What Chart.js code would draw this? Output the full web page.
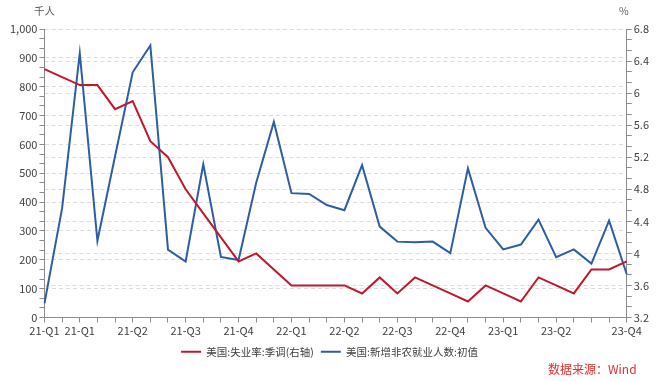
<!DOCTYPE html>
<html>
<head>
<meta charset="utf-8">
<script src="https://cdn.jsdelivr.net/npm/chart.js@4.4.0/dist/chart.umd.min.js"></script>
<style>
    html, body { margin: 0; padding: 0; background: #fff; }
    #wrap { position: relative; width: 656px; height: 381px; font-family: "Noto Sans CJK SC", sans-serif; }
    canvas { display: block; }
    .unit { position: absolute; top: 3px; font-size: 10.5px; color: #595959; }
    #src { position: absolute; left: 548px; top: 360px; font-size: 12px; color: #e0302e; white-space: nowrap; }
</style>
</head>
<body>
<div id="wrap">
    <canvas id="jobsChart" width="656" height="381"></canvas>
    <div class="unit" style="left:34px;">千人</div>
    <div class="unit" style="left:619px;">%</div>
    <div id="src">数据来源：Wind</div>
</div>
<script>
// 月份 2021-01 ~ 2023-10
const months = [
    '2021-01', '2021-02', '2021-03', '2021-04', '2021-05', '2021-06', '2021-07', '2021-08', '2021-09', '2021-10', '2021-11', '2021-12',
    '2022-01', '2022-02', '2022-03', '2022-04', '2022-05', '2022-06', '2022-07', '2022-08', '2022-09', '2022-10', '2022-11', '2022-12',
    '2023-01', '2023-02', '2023-03', '2023-04', '2023-05', '2023-06', '2023-07', '2023-08', '2023-09', '2023-10'
];
// x轴显示的标签
const xTickLabels = [
    '21-Q1', '', '21-Q1', '', '', '21-Q2', '', '', '21-Q3', '', '', '21-Q4',
    '', '', '22-Q1', '', '', '22-Q2', '', '', '22-Q3', '', '', '22-Q4',
    '', '', '23-Q1', '', '', '23-Q2', '', '', '', '23-Q4'
];
// 美国:失业率:季调 (%)
const unemployment = [
    6.3, 6.2, 6.1, 6.1, 5.8, 5.9, 5.4, 5.2, 4.8, 4.5, 4.2, 3.9,
    4.0, 3.8, 3.6, 3.6, 3.6, 3.6, 3.5, 3.7, 3.5, 3.7, 3.6, 3.5,
    3.4, 3.6, 3.5, 3.4, 3.7, 3.6, 3.5, 3.8, 3.8, 3.9
];
// 美国:新增非农就业人数:初值 (千人)
const payrolls = [
    49, 379, 916, 266, 559, 850, 943, 235, 194, 531, 210, 199,
    467, 678, 431, 428, 390, 372, 528, 315, 263, 261, 263, 223,
    517, 311, 236, 253, 339, 209, 236, 187, 336, 150
];

const labelFont = { family: '"Noto Sans CJK SC", sans-serif', size: 11 };
const textColor = '#404040';
const axisColor = '#8c8c8c';
const gridColor = '#dcdcdc';

function isStep(v, base, step) {
    const r = (v - base) / step;
    return Math.abs(r - Math.round(r)) < 1e-6;
}

const ctx = document.getElementById('jobsChart').getContext('2d');
new Chart(ctx, {
    type: 'line',
    data: {
        labels: months,
        datasets: [
            {
                label: '美国:失业率:季调(右轴)',
                data: unemployment,
                yAxisID: 'y1',
                borderColor: '#c0182c',
                backgroundColor: '#c0182c',
                borderWidth: 2,
                pointRadius: 0,
                tension: 0
            },
            {
                label: '美国:新增非农就业人数:初值',
                data: payrolls,
                yAxisID: 'y',
                borderColor: '#2e5da3',
                backgroundColor: '#2e5da3',
                borderWidth: 2,
                pointRadius: 0,
                tension: 0
            }
        ]
    },
    options: {
        responsive: false,
        animation: false,
        layout: { padding: { left: 8, right: 5, top: 29, bottom: 14 } },
        plugins: {
            legend: {
                position: 'bottom',
                labels: {
                    usePointStyle: true,
                    pointStyle: 'line',
                    pointStyleWidth: 20,
                    padding: 7,
                    color: textColor,
                    font: { family: '"Noto Sans CJK SC", sans-serif', size: 10.5 }
                }
            },
            tooltip: { enabled: false }
        },
        scales: {
            x: {
                offset: false,
                grid: {
                    drawOnChartArea: false,
                    drawTicks: true,
                    tickLength: 5,
                    tickColor: axisColor
                },
                border: { color: axisColor },
                ticks: {
                    autoSkip: false,
                    maxRotation: 0,
                    padding: 3,
                    color: textColor,
                    font: Object.assign({ lineHeight: 1 }, labelFont),
                    callback: (v, i) => xTickLabels[i]
                }
            },
            y: {
                position: 'left',
                min: 0,
                max: 1000,
                grid: {
                    color: c => isStep(c.tick.value, 0, 100) ? gridColor : 'rgba(0,0,0,0)',
                    tickColor: axisColor,
                    tickLength: 5
                },
                border: { color: axisColor, dash: [4, 3] },
                ticks: {
                    stepSize: 100 / 3,
                    autoSkip: false,
                    padding: 2,
                    color: textColor,
                    font: labelFont,
                    callback: v => isStep(v, 0, 100) ? Math.round(v).toLocaleString('en-US') : ''
                }
            },
            y1: {
                position: 'right',
                min: 3.2,
                max: 6.8,
                grid: {
                    color: c => isStep(c.tick.value, 3.2, 0.4) ? gridColor : 'rgba(0,0,0,0)',
                    tickColor: axisColor,
                    tickLength: 5
                },
                border: { color: axisColor, dash: [4, 3] },
                ticks: {
                    stepSize: 0.4 / 3,
                    autoSkip: false,
                    padding: 2,
                    color: textColor,
                    font: labelFont,
                    callback: v => isStep(v, 3.2, 0.4) ? String(Number(v.toFixed(1))) : ''
                }
            }
        }
    }
});
</script>
</body>
</html>
